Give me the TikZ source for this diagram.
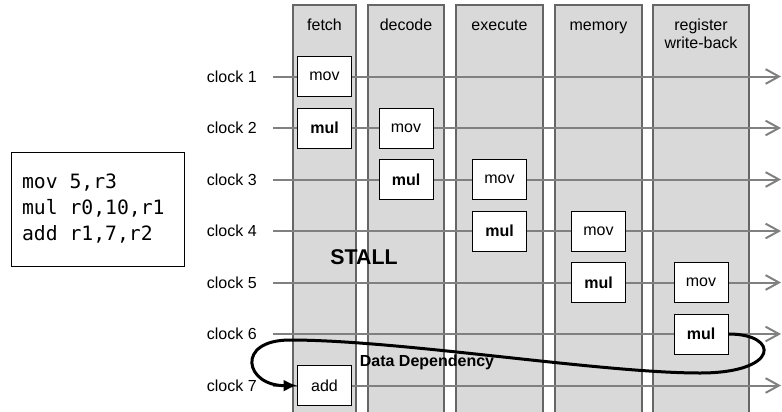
\documentclass[tikz,border=0pt]{standalone}
\usepackage{fontspec}
\setmainfont{Liberation Sans}
\newfontfamily\codefont{DejaVu Sans Mono}
\newcommand\codegap{\hphantom{0}}
\usepackage{tikz}
\usetikzlibrary{arrows.meta,positioning}

\begin{document}
\begin{tikzpicture}[x=0.75pt, y=-0.75pt,
        stage/.style={rectangle, draw=black!60, line width=0.9pt, fill=black!15, minimum width=#1, minimum height=309pt, inner sep=0pt},
        head/.style={anchor=base, align=center, font=\fontsize{12}{13.5}\selectfont},
        clk/.style={anchor=east, inner sep=0pt, font=\fontsize{12}{14}\selectfont},
        instr/.style={rectangle, draw=black, line width=0.75pt, fill=white, minimum width=40.5pt, minimum height=30pt, inner sep=0pt, font=\fontsize{12}{14}\selectfont},
        code/.style={rectangle, draw=black, line width=0.75pt, align=left, text width=113.25pt, inner xsep=8.25pt, minimum height=85.5pt, font=\codefont\fontsize{14.8}{19.5}\selectfont},
        tick/.style={draw=black!50, line width=1.5pt, -{Straight Barb[length=10pt, width=11pt]}},
        dep/.style={draw=black, line width=2.25pt, -{Latex[length=10pt, width=9pt]}}]

        \useasboundingbox (0,0) rectangle (782,411);

        % pipeline stages
        \node[stage=47.25pt] (fetch) at (324.5,211) {};
        \node[stage=57pt] (decode) at (406,211) {};
        \node[stage=65.25pt] (execute) at (499.5,211) {};
        \node[stage=65.25pt] (memory) at (598.5,211) {};
        \node[stage=72pt] (wback) at (701,211) {};

        \node[head] (fetchhd) at ([yshift=-19.9pt]fetch.north) {fetch};
        \node[head] (decodehd) at ([yshift=-19.9pt]decode.north) {decode};
        \node[head] (executehd) at ([yshift=-19.9pt]execute.north) {execute};
        \node[head] (memoryhd) at ([yshift=-19.9pt]memory.north) {memory};
        \node[head] (wbackhd) at ([yshift=-33.4pt]wback.north) {register\\write-back};

        % clock cycles
        \node[clk] (clk1) at (257,76.5) {clock 1};
        \node[clk] (clk2) at (257,128) {clock 2};
        \node[clk] (clk3) at (257,179.5) {clock 3};
        \node[clk] (clk4) at (257,231) {clock 4};
        \node[clk] (clk5) at (257,282.5) {clock 5};
        \node[clk] (clk6) at (257,334) {clock 6};
        \node[clk] (clk7) at (257,385.5) {clock 7};

        \coordinate (end1) at (781,76.5);
        \coordinate (end2) at (781,128);
        \coordinate (end3) at (781,179.5);
        \coordinate (end4) at (781,231);
        \coordinate (end5) at (781,282.5);
        \coordinate (end6) at (781,334);
        \coordinate (end7) at (781,385.5);

        \draw[tick] ([xshift=12pt]clk1.east) -- (end1);
        \draw[tick] ([xshift=12pt]clk2.east) -- (end2);
        \draw[tick] ([xshift=12pt]clk3.east) -- (end3);
        \draw[tick] ([xshift=12pt]clk4.east) -- (end4);
        \draw[tick] ([xshift=12pt]clk5.east) -- (end5);
        \draw[tick] ([xshift=12pt]clk6.east) -- (end6);
        \draw[tick] ([xshift=12pt]clk7.east) -- (end7);

        % instructions
        \node[instr] (movc1) at (fetch |- clk1) {mov};
        \node[instr, font=\bfseries\fontsize{12}{14}\selectfont] (mulc2) at (fetch |- clk2) {mul};
        \node[instr] (movc2) at (decode |- clk2) {mov};
        \node[instr, font=\bfseries\fontsize{12}{14}\selectfont] (mulc3) at (decode |- clk3) {mul};
        \node[instr] (movc3) at (execute |- clk3) {mov};
        \node[instr, font=\bfseries\fontsize{12}{14}\selectfont] (mulc4) at (execute |- clk4) {mul};
        \node[instr] (movc4) at (memory |- clk4) {mov};
        \node[instr, font=\bfseries\fontsize{12}{14}\selectfont] (mulc5) at (memory |- clk5) {mul};
        \node[instr] (movc5) at (wback |- clk5) {mov};
        \node[instr, font=\bfseries\fontsize{12}{14}\selectfont] (mulc6) at (wback |- clk6) {mul};
        \node[instr] (addc7) at (fetch |- clk7) {add};

        \node[code] (prog) at (97.5,209) {mov\codegap 5,r3\\mul\codegap r0,10,r1\\add\codegap r1,7,r2};

        \node[font=\bfseries\fontsize{16}{18}\selectfont] (stall) at (364,257.5) {STALL};

        \draw[dep] (mulc6.east) .. controls (780,334) and (780,373) .. (700,373)
            .. controls (600,373) and (400,340) .. (290,340)
            .. controls (235,340) and (245,386) .. (addc7.west);
        \node[font=\bfseries\fontsize{12}{14}\selectfont] (deplbl) at (427,362.5) {Data Dependency};

    \end{tikzpicture}
\end{document}
